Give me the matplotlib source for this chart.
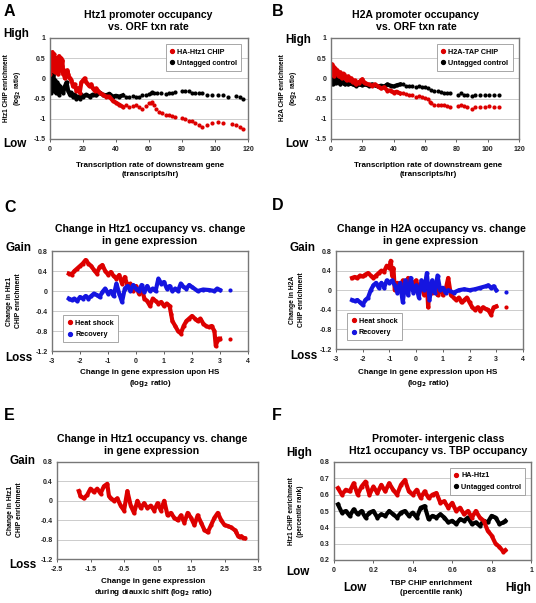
import matplotlib
matplotlib.use("Agg")
import matplotlib.pyplot as plt
from matplotlib.lines import Line2D

plt.rcParams['font.family'] = ['Liberation Sans', 'DejaVu Sans']
plt.rcParams['font.weight'] = 'bold'

W, H = 536, 603

# ---- A: Htz1 promoter occupancy vs ORF txn rate ----
a_red_x = [0, 0.5, 1, 1.5, 2, 2.5, 3, 3.5, 4, 4.5, 5, 5.5, 6, 6.5, 7, 7.5, 8, 8.5, 9, 9.5, 10, 10.5, 11, 12, 13, 14,
           15, 16, 17, 18, 19, 20, 21, 22, 23, 24, 25, 26, 27, 28, 29, 30, 32, 34, 36, 38, 40, 42, 44]
a_red_y = [0.1, 0.6, 0.2, 0.65, 0.3, 0.6, 0.15, 0.5, 0.25, 0.45, 0.1, 0.55, 0.2, 0.5, 0.3, 0.45, 0.1, 0.2, 0.0, 0.15,
           0.05, 0.2, 0.1, 0.0, -0.05, -0.2, -0.15, -0.3, -0.25, -0.35, -0.1, -0.05, 0.0, -0.1, -0.15, -0.2, -0.15,
           -0.25, -0.3, -0.25, -0.3, -0.35, -0.4, -0.45, -0.45, -0.55, -0.6, -0.65, -0.7]
a_red_tail_x = [46, 48, 50, 52, 54, 56, 58, 60, 61, 62, 63, 64, 66, 68, 70, 72, 74, 76, 80, 82, 84, 86, 88, 90, 92,
                95, 98, 102, 105, 110, 113, 115, 117]
a_red_tail_y = [-0.65, -0.7, -0.68, -0.65, -0.72, -0.75, -0.68, -0.62, -0.6, -0.58, -0.65, -0.75, -0.82, -0.85, -0.9,
                -0.9, -0.92, -0.95, -0.98, -1.0, -1.05, -1.05, -1.1, -1.15, -1.2, -1.15, -1.1, -1.08, -1.1, -1.12,
                -1.15, -1.2, -1.25]
a_blk_x = [0, 0.5, 1, 1.5, 2, 2.5, 3, 3.5, 4, 4.5, 5, 5.5, 6, 6.5, 7, 8, 9, 10, 11, 12, 13, 14, 15, 16, 17, 18, 19,
           20, 22, 24, 26, 28, 30, 32, 34, 36, 38, 40, 42, 44]
a_blk_y = [-0.1, -0.35, 0.05, -0.3, 0.1, -0.25, -0.05, -0.35, -0.1, -0.3, -0.15, -0.4, -0.2, -0.3, -0.25, -0.35,
           -0.2, -0.1, -0.3, -0.4, -0.35, -0.45, -0.4, -0.5, -0.45, -0.5, -0.4, -0.45, -0.4, -0.45, -0.4, -0.42,
           -0.35, -0.4, -0.42, -0.38, -0.45, -0.43, -0.45, -0.42]
a_blk_tail_x = [46, 48, 50, 52, 54, 56, 58, 60, 61, 62, 63, 65, 67, 70, 72, 74, 76, 80, 82, 84, 86, 88, 90, 92, 95,
                98, 102, 105, 108, 113, 115, 117]
a_blk_tail_y = [-0.45, -0.45, -0.43, -0.45, -0.45, -0.42, -0.4, -0.38, -0.35, -0.33, -0.35, -0.37, -0.35, -0.38,
                -0.37, -0.35, -0.33, -0.3, -0.3, -0.32, -0.35, -0.35, -0.37, -0.37, -0.4, -0.4, -0.42, -0.42, -0.45,
                -0.43, -0.47, -0.5]

# ---- B: H2A promoter occupancy vs ORF txn rate ----
b_red_x = [0, 0.5, 1, 1.5, 2, 2.5, 3, 4, 5, 6, 7, 8, 9, 10, 11, 12, 13, 14, 15, 16, 17, 18, 19, 20, 21, 22, 24, 26,
           28, 30, 32, 34, 36, 38, 40, 42, 44]
b_red_y = [0.15, 0.35, 0.1, 0.3, 0.05, 0.25, 0.15, 0.2, 0.05, 0.15, 0.0, 0.12, 0.05, -0.05, 0.05, -0.05, 0.0, -0.1,
           -0.05, -0.15, -0.1, -0.12, -0.05, -0.02, -0.1, -0.12, -0.15, -0.18, -0.15, -0.2, -0.25, -0.22, -0.3,
           -0.3, -0.35, -0.33, -0.37]
b_red_tail_x = [46, 48, 50, 52, 54, 56, 58, 60, 62, 63, 64, 66, 68, 70, 72, 74, 76, 81, 83, 85, 87, 90, 92, 95, 98,
                101, 104, 107]
b_red_tail_y = [-0.35, -0.38, -0.4, -0.42, -0.45, -0.43, -0.45, -0.48, -0.5, -0.58, -0.6, -0.65, -0.65, -0.66,
                -0.67, -0.68, -0.7, -0.68, -0.65, -0.68, -0.72, -0.75, -0.72, -0.7, -0.7, -0.68, -0.7, -0.72]
b_blk_x = [0, 0.5, 1, 1.5, 2, 2.5, 3, 3.5, 4, 5, 6, 7, 8, 9, 10, 11, 12, 14, 16, 18, 20, 22, 24, 26, 28, 30, 32, 34,
           36, 38, 40, 42, 44]
b_blk_y = [-0.05, 0.1, -0.15, 0.05, -0.1, 0.08, -0.12, 0.0, -0.1, -0.05, -0.15, -0.05, -0.12, -0.15, -0.1, -0.15,
           -0.12, -0.15, -0.18, -0.15, -0.17, -0.15, -0.18, -0.15, -0.17, -0.2, -0.18, -0.2, -0.15, -0.18, -0.2,
           -0.17, -0.15]
b_blk_tail_x = [46, 48, 50, 52, 54, 56, 58, 60, 62, 64, 66, 68, 70, 72, 74, 76, 81, 83, 85, 87, 90, 92, 95, 98, 101,
                104, 107]
b_blk_tail_y = [-0.15, -0.2, -0.2, -0.2, -0.22, -0.2, -0.22, -0.22, -0.25, -0.28, -0.3, -0.32, -0.33, -0.35, -0.35,
                -0.37, -0.4, -0.37, -0.4, -0.42, -0.43, -0.42, -0.4, -0.42, -0.4, -0.42, -0.42]

# ---- C: change in Htz1 occupancy vs change in expression (HS) ----
c_hs_x = [-2.4, -2.3, -2.2, -2.1, -2.0, -1.9, -1.8, -1.7, -1.6, -1.5, -1.4, -1.3, -1.2, -1.1, -1.0, -0.9, -0.8,
          -0.7, -0.6, -0.5, -0.4, -0.3, -0.2, -0.1, 0.0, 0.1, 0.2, 0.3, 0.4, 0.5, 0.6, 0.7, 0.8, 0.9, 1.0, 1.1, 1.2,
          1.25, 1.3, 1.4, 1.5, 1.6, 1.7, 1.8, 1.9, 2.0, 2.1, 2.2, 2.3, 2.4, 2.5, 2.6, 2.7, 2.8, 2.85, 2.9, 2.95, 3.0]
c_hs_y = [0.35, 0.33, 0.4, 0.45, 0.5, 0.55, 0.62, 0.55, 0.5, 0.42, 0.35, 0.48, 0.52, 0.4, 0.33, 0.38, 0.3, 0.25,
          0.32, 0.15, 0.28, 0.1, 0.15, 0.0, 0.1, -0.05, 0.05, -0.15, -0.2, -0.3, -0.15, -0.2, -0.25, -0.22, -0.3,
          -0.25, -0.3, -0.45, -0.6, -0.7, -0.8, -0.85, -0.7, -0.6, -0.55, -0.5, -0.55, -0.6, -0.55, -0.65, -0.7,
          -0.72, -0.7, -0.8, -1.1, -1.0, -0.95, -0.95]
c_hs_tail_x = [3.35]
c_hs_tail_y = [-0.95]
c_rec_x = [-2.4, -2.3, -2.2, -2.1, -2.0, -1.9, -1.8, -1.7, -1.6, -1.5, -1.4, -1.3, -1.2, -1.1, -1.0, -0.9, -0.8,
           -0.7, -0.6, -0.5, -0.4, -0.3, -0.2, -0.1, 0.0, 0.1, 0.2, 0.3, 0.4, 0.5, 0.6, 0.7, 0.8, 0.9, 1.0, 1.1, 1.2,
           1.3, 1.4, 1.5, 1.6, 1.7, 1.8, 1.9, 2.0, 2.2, 2.4, 2.6, 2.8, 2.9, 3.0]
c_rec_y = [-0.15, -0.18, -0.15, -0.2, -0.12, -0.15, -0.1, -0.15, -0.1, -0.05, -0.08, -0.12, -0.02, 0.05, -0.05,
           0.0, -0.1, 0.15, -0.05, -0.22, 0.05, 0.1, 0.0, 0.12, 0.05, 0.0, 0.12, -0.02, 0.1, 0.0, 0.05, 0.0, 0.25,
           0.15, 0.18, 0.05, 0.1, 0.0, 0.05, 0.0, 0.15, 0.08, 0.05, 0.12, 0.08, 0.0, 0.03, 0.02, 0.0, 0.05, 0.02]
c_rec_tail_x = [3.35]
c_rec_tail_y = [0.02]

# ---- D: change in H2A occupancy vs change in expression (HS) ----
d_hs_x = [-2.4, -2.3, -2.2, -2.1, -2.0, -1.9, -1.8, -1.7, -1.6, -1.5, -1.4, -1.3, -1.2, -1.1, -1.0, -0.95, -0.9,
          -0.85, -0.8, -0.7, -0.6, -0.5, -0.4, -0.3, -0.2, -0.1, 0.0, 0.1, 0.2, 0.3, 0.4, 0.45, 0.5, 0.6, 0.7, 0.8,
          0.9, 1.0, 1.1, 1.2, 1.3, 1.4, 1.5, 1.6, 1.7, 1.8, 1.9, 2.0, 2.1, 2.2, 2.3, 2.4, 2.5, 2.6, 2.7, 2.8, 2.9,
          3.0]
d_hs_y = [0.25, 0.27, 0.25, 0.3, 0.28, 0.32, 0.35, 0.3, 0.25, 0.3, 0.35, 0.4, 0.38, 0.5, 0.45, 0.6, 0.3, 0.45, 0.0,
          0.15, 0.05, 0.2, 0.0, 0.25, 0.05, 0.15, 0.2, 0.0, 0.1, -0.1, 0.15, -0.35, 0.1, -0.05, 0.1, -0.1, 0.05,
          -0.1, 0.0, 0.25, -0.1, -0.15, -0.2, -0.15, -0.25, -0.2, -0.15, -0.25, -0.35, -0.4, -0.35, -0.42, -0.35,
          -0.38, -0.4, -0.5, -0.35, -0.33]
d_hs_tail_x = [3.35]
d_hs_tail_y = [-0.35]
d_rec_x = [-2.4, -2.3, -2.2, -2.1, -2.0, -1.9, -1.8, -1.7, -1.6, -1.5, -1.4, -1.3, -1.2, -1.1, -1.0, -0.9, -0.8,
           -0.7, -0.6, -0.5, -0.4, -0.3, -0.2, -0.1, 0.0, 0.1, 0.2, 0.3, 0.4, 0.5, 0.6, 0.7, 0.8, 0.9, 1.0, 1.1, 1.2,
           1.4, 1.6, 1.8, 2.0, 2.2, 2.4, 2.6, 2.7, 2.8, 2.9, 3.0]
d_rec_y = [-0.2, -0.22, -0.2, -0.25, -0.3, -0.2, -0.15, 0.0, 0.1, 0.15, 0.05, 0.15, 0.05, 0.2, 0.15, 0.2, 0.1,
           -0.05, 0.15, -0.25, 0.2, -0.1, 0.25, -0.05, 0.1, -0.15, 0.2, 0.0, 0.35, -0.2, 0.2, -0.05, 0.3, 0.0, 0.05,
           -0.05, 0.0, -0.05, 0.0, 0.02, 0.0, 0.02, 0.05, 0.08, 0.1, 0.05, 0.08, 0.0]
d_rec_tail_x = [3.35]
d_rec_tail_y = [-0.03]

# ---- E: change in Htz1 occupancy vs change in expression (diauxic shift) ----
e_x = [-1.85, -1.8, -1.7, -1.6, -1.5, -1.4, -1.3, -1.2, -1.1, -1.0, -0.95, -0.9, -0.8, -0.7, -0.6, -0.5, -0.4,
       -0.3, -0.2, -0.1, 0.0, 0.1, 0.2, 0.3, 0.4, 0.5, 0.6, 0.7, 0.8, 0.9, 1.0, 1.1, 1.2, 1.3, 1.4, 1.5, 1.6, 1.7,
       1.8, 1.9, 2.0, 2.1, 2.2, 2.3, 2.4, 2.5, 2.6, 2.7, 2.8]
e_y = [0.2, 0.1, 0.05, 0.12, 0.25, 0.18, 0.25, 0.15, 0.3, 0.35, 0.1, 0.05, 0.0, 0.05, -0.1, -0.2, 0.2, -0.1, -0.25,
       0.0, -0.15, -0.05, -0.15, -0.1, -0.2, -0.05, -0.2, 0.0, -0.3, -0.25, -0.35, -0.4, -0.3, -0.45, -0.25, -0.35,
       -0.5, -0.3, -0.45, -0.6, -0.65, -0.5, -0.35, -0.25, -0.4, -0.5, -0.52, -0.55, -0.6]
e_tail_x = [2.85, 2.9, 2.95, 3.0, 3.05, 3.1]
e_tail_y = [-0.65, -0.72, -0.75, -0.73, -0.76, -0.77]

# ---- F: Htz1 occupancy vs TBP occupancy ----
f_red_x = [0.02, 0.04, 0.06, 0.08, 0.1, 0.12, 0.14, 0.16, 0.18, 0.2, 0.22, 0.24, 0.26, 0.28, 0.3, 0.32, 0.34, 0.36,
           0.38, 0.4, 0.42, 0.44, 0.46, 0.48, 0.5, 0.52, 0.54, 0.56, 0.58, 0.6, 0.62, 0.64, 0.66, 0.68, 0.7, 0.72,
           0.74, 0.76, 0.78, 0.8, 0.82, 0.84, 0.86, 0.87]
f_red_y = [0.64, 0.6, 0.63, 0.62, 0.67, 0.6, 0.65, 0.68, 0.6, 0.65, 0.61, 0.66, 0.62, 0.67, 0.63, 0.6, 0.66, 0.69,
           0.62, 0.6, 0.63, 0.58, 0.62, 0.58, 0.6, 0.61, 0.55, 0.56, 0.52, 0.55, 0.5, 0.52, 0.48, 0.5, 0.46, 0.5,
           0.46, 0.44, 0.38, 0.35, 0.3, 0.28, 0.25, 0.26]
f_blk_x = [0.02, 0.04, 0.06, 0.08, 0.1, 0.12, 0.14, 0.16, 0.18, 0.2, 0.22, 0.24, 0.26, 0.28, 0.3, 0.32, 0.34, 0.36,
           0.38, 0.4, 0.42, 0.44, 0.46, 0.48, 0.5, 0.52, 0.54, 0.56, 0.58, 0.6, 0.62, 0.64, 0.66, 0.68, 0.7, 0.72,
           0.74, 0.76, 0.78, 0.8, 0.82, 0.84, 0.86, 0.87]
f_blk_y = [0.54, 0.49, 0.5, 0.47, 0.51, 0.48, 0.5, 0.46, 0.49, 0.5, 0.46, 0.48, 0.47, 0.5, 0.48, 0.46, 0.49, 0.5,
           0.47, 0.49, 0.46, 0.52, 0.53, 0.45, 0.47, 0.46, 0.48, 0.46, 0.43, 0.44, 0.42, 0.45, 0.44, 0.46, 0.42,
           0.43, 0.41, 0.44, 0.43, 0.47, 0.46, 0.42, 0.43, 0.44]

RED = '#dd0000'
BLUE = '#1515e0'
BLK = '#000000'

fig = plt.figure(figsize=(W / 100, H / 100), dpi=100)


def fx(px):
    return px / W


def fy(py):
    return 1 - py / H


def make_ax(l, r, t, b, xlim, ylim, xticks, yticks):
    ax = fig.add_axes([fx(l), fy(b), (r - l) / W, (b - t) / H])
    ax.set_xlim(*xlim)
    ax.set_ylim(*ylim)
    ax.set_xticks(xticks)
    ax.set_yticks(yticks)
    ax.set_xticklabels(['%g' % v for v in xticks])
    ax.set_yticklabels(['%g' % v for v in yticks])
    ax.tick_params(labelsize=5, length=2, width=0.5, pad=3, colors='#222222')
    ax.tick_params(axis='y', length=0)
    for s in ax.spines.values():
        s.set_color('#777777')
        s.set_linewidth(1.0)
    ax.yaxis.grid(True, color='#cccccc', lw=0.7)
    ax.set_axisbelow(True)
    return ax


def dense(ax, x, y, c):
    ax.plot(x, y, color=c, lw=3.0, marker='o', ms=3.0, mew=0, solid_joinstyle='round')


def dots(ax, x, y, c):
    ax.plot(x, y, color=c, ls='none', marker='o', ms=3.0, mew=0)


def legend(ax, labels, colors, loc, anchor):
    h = [Line2D([], [], ls='none', marker='o', ms=2.8, color=c) for c in colors]
    lg = ax.legend(h, labels, loc=loc, bbox_to_anchor=anchor, fontsize=5.2, handlelength=0.6,
                   handletextpad=0.4, borderpad=0.6, labelspacing=0.6, fancybox=False, framealpha=1)
    lg.get_frame().set_edgecolor('#999999')
    lg.get_frame().set_linewidth(0.6)


def txt(x, y, s, size, ha='center', rot=0):
    fig.text(fx(x), fy(y), s, fontsize=size, fontweight='bold', ha=ha, va='center', rotation=rot,
             linespacing=1.3)


# A
axA = make_ax(50, 248, 38, 139, (0, 120), (-1.5, 1), range(0, 121, 20), [-1.5, -1, -0.5, 0, 0.5, 1])
dense(axA, a_blk_x, a_blk_y, BLK)
dots(axA, a_blk_tail_x, a_blk_tail_y, BLK)
dense(axA, a_red_x, a_red_y, RED)
dots(axA, a_red_tail_x, a_red_tail_y, RED)
legend(axA, ['HA-Htz1 CHIP', 'Untagged control'], [RED, BLK], 'upper right', (0.985, 0.975))

# B
axB = make_ax(331, 519, 38, 139, (0, 120), (-1.5, 1), range(0, 121, 20), [-1.5, -1, -0.5, 0, 0.5, 1])
dense(axB, b_blk_x, b_blk_y, BLK)
dots(axB, b_blk_tail_x, b_blk_tail_y, BLK)
dense(axB, b_red_x, b_red_y, RED)
dots(axB, b_red_tail_x, b_red_tail_y, RED)
legend(axB, ['H2A-TAP CHIP', 'Untagged control'], [RED, BLK], 'upper right', (0.985, 0.975))

yt = [-1.2, -0.8, -0.4, 0, 0.4, 0.8]
# C
axC = make_ax(52, 248, 251, 351, (-3, 4), (-1.2, 0.8), range(-3, 5), yt)
dense(axC, c_hs_x, c_hs_y, RED)
dots(axC, c_hs_tail_x, c_hs_tail_y, RED)
dense(axC, c_rec_x, c_rec_y, BLUE)
dots(axC, c_rec_tail_x, c_rec_tail_y, BLUE)
legend(axC, ['Heat shock', 'Recovery'], [RED, BLUE], 'lower left', (0.04, 0.05))

# D
axD = make_ax(336, 523, 251, 349, (-3, 4), (-1.2, 0.8), range(-3, 5), yt)
dense(axD, d_hs_x, d_hs_y, RED)
dots(axD, d_hs_tail_x, d_hs_tail_y, RED)
dense(axD, d_rec_x, d_rec_y, BLUE)
dots(axD, d_rec_tail_x, d_rec_tail_y, BLUE)
legend(axD, ['Heat shock', 'Recovery'], [RED, BLUE], 'lower left', (0.04, 0.05))

# E
axE = make_ax(57, 258, 462, 559, (-2.5, 3.5), (-1.2, 0.8), [-2.5, -1.5, -0.5, 0.5, 1.5, 2.5, 3.5], yt)
dense(axE, e_x, e_y, RED)
dense(axE, e_tail_x, e_tail_y, RED)

# F
axF = make_ax(334, 531, 462, 560, (0, 1), (0.2, 0.8), [0, 0.2, 0.4, 0.6, 0.8, 1],
              [0.2, 0.3, 0.4, 0.5, 0.6, 0.7, 0.8])
dense(axF, f_blk_x, f_blk_y, BLK)
dense(axF, f_red_x, f_red_y, RED)
legend(axF, ['HA-Htz1', 'Untagged control'], [RED, BLK], 'upper right', (0.99, 0.975))

# panel letters
for s, x, y in [('A', 4, 11), ('B', 272, 11), ('C', 4, 207), ('D', 272, 206), ('E', 4, 415), ('F', 272, 415)]:
    txt(x, y, s, 11.5, ha='left')

# titles
txt(148, 21, 'Htz1 promoter occupancy\nvs. ORF txn rate', 7.6)
txt(416, 21, 'H2A promoter occupancy\nvs. ORF txn rate', 7.6)
txt(150, 235, 'Change in Htz1 occupancy vs. change\nin gene expression', 7.6)
txt(431, 235, 'Change in H2A occupancy vs. change\nin gene expression', 7.6)
txt(152, 445, 'Change in Htz1 occupancy vs. change\nin gene expression', 7.6)
txt(438, 445, 'Promoter- intergenic class\nHtz1 occupancy vs. TBP occupancy', 7.6)

# side labels
for s, x, y in [('High', 3, 34), ('Low', 3, 144), ('High', 285, 40), ('Low', 285, 144),
                ('Gain', 6, 248), ('Loss', 5, 358), ('Gain', 290, 248), ('Loss', 290, 356),
                ('Gain', 9, 461), ('Loss', 9, 565), ('High', 286, 453), ('Low', 286, 572)]:
    txt(x, y, s, 8.4, ha='left')

# y labels
txt(13, 88, 'Htz1 CHIP enrichment\n(log$_2$ ratio)', 4.7, rot=90)
txt(289, 88, 'H2A CHIP enrichment\n(log$_2$ ratio)', 4.7, rot=90)
txt(14, 301, 'Change in Htz1\nCHIP enrichment', 4.9, rot=90)
txt(297, 300, 'Change in H2A\nCHIP enrichment', 4.9, rot=90)
txt(15, 510, 'Change in Htz1\nCHIP enrichment', 4.9, rot=90)
txt(296, 511, 'Htz1 CHIP enrichment\n(percentile rank)', 4.7, rot=90)

# x labels
txt(150, 170, 'Transcription rate of downstream gene\n(transcripts/hr)', 5.8)
txt(428, 170, 'Transcription rate of downstream gene\n(transcripts/hr)', 5.8)
txt(150, 379, 'Change in gene expression upon HS\n(log$_2$ ratio)', 5.8)
txt(428, 379, 'Change in gene expression upon HS\n(log$_2$ ratio)', 5.8)
txt(153, 588, 'Change in gene expression\nduring diauxic shift (log$_2$ ratio)', 5.8)
txt(431, 588, 'TBP CHIP enrichment\n(percentile rank)', 5.8)
txt(343, 588, 'Low', 8.4, ha='left')
txt(505, 588, 'High', 8.4, ha='left')

fig.savefig('out.png', dpi=100, facecolor='white')
